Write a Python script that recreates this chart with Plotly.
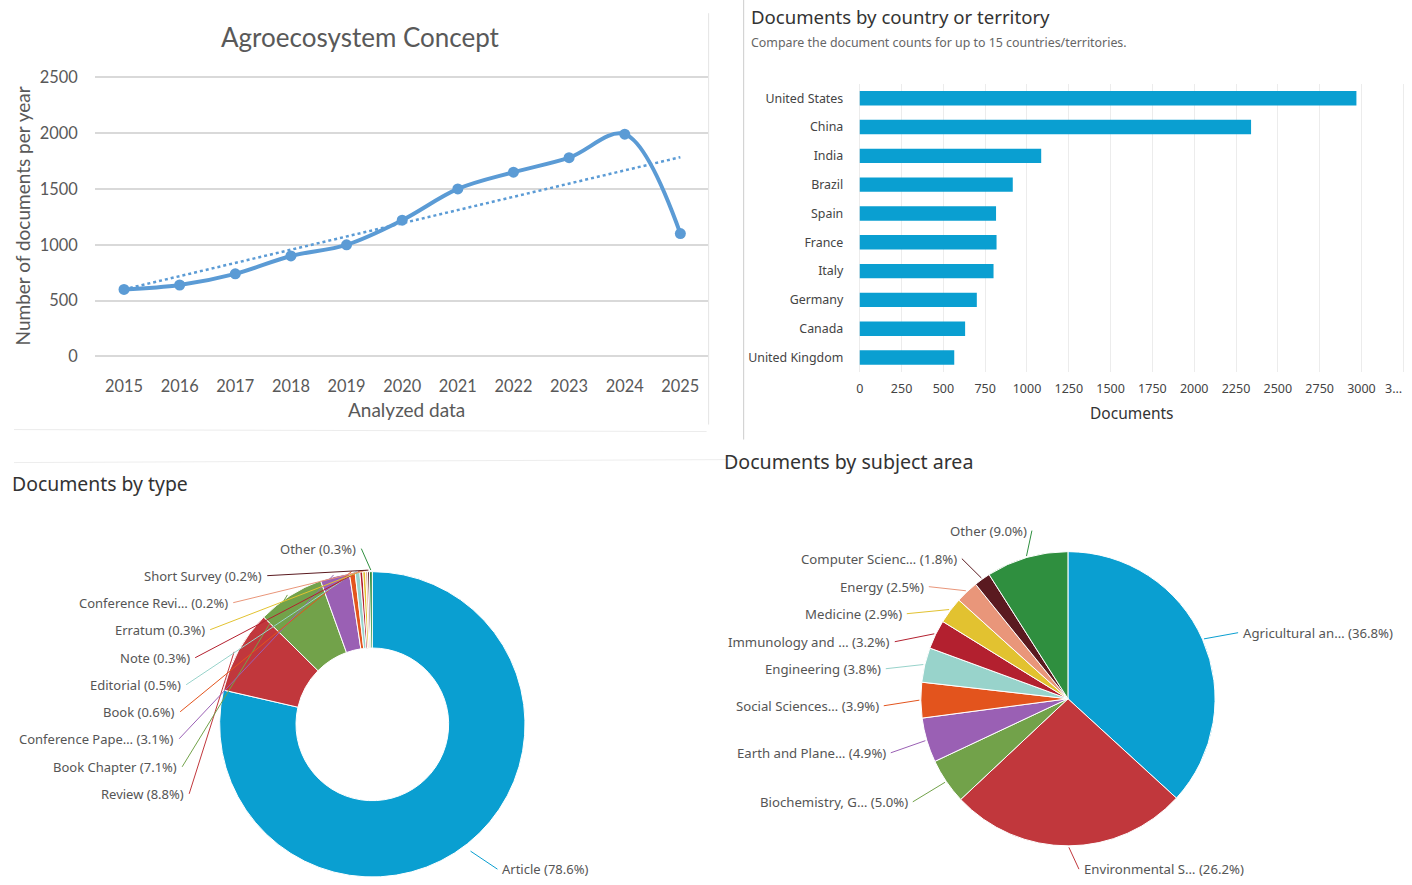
import numpy as np
import plotly.graph_objects as go

W, H = 1412, 885

# ---------------- data ----------------
years = [2015, 2016, 2017, 2018, 2019, 2020, 2021, 2022, 2023, 2024, 2025]
docs_per_year = [600, 640, 740, 900, 1000, 1220, 1500, 1650, 1780, 1990, 1100]

countries = ["United States", "China", "India", "Brazil", "Spain", "France",
             "Italy", "Germany", "Canada", "United Kingdom"]
country_docs = [2970, 2340, 1085, 915, 815, 818, 800, 700, 630, 565]
country_tickvals = [0, 250, 500, 750, 1000, 1250, 1500, 1750, 2000, 2250, 2500, 2750, 3000, 3250]
country_ticktext = ["0", "250", "500", "750", "1000", "1250", "1500", "1750", "2000",
                    "2250", "2500", "2750", "3000", ""]
country_last_tick = "3…"

type_labels = ["Article", "Review", "Book Chapter", "Conference Pape…", "Book", "Editorial",
               "Note", "Erratum", "Conference Revi…", "Short Survey", "Other"]
type_pct = [78.6, 8.8, 7.1, 3.1, 0.6, 0.5, 0.3, 0.3, 0.2, 0.2, 0.3]

subject_labels = ["Agricultural an…", "Environmental S…", "Biochemistry, G…", "Earth and Plane…",
                  "Social Sciences…", "Engineering", "Immunology and …", "Medicine", "Energy",
                  "Computer Scienc…", "Other"]
subject_pct = [36.8, 26.2, 5.0, 4.9, 3.9, 3.8, 3.2, 2.9, 2.5, 1.8, 9.0]

# ---------------- styles / layout constants ----------------
palette = ["#0a9fd1", "#c1373c", "#72a24a", "#9a60b4", "#e3541d", "#98d3cb",
           "#b3202f", "#e2c230", "#e9967a", "#5a1a20", "#2f8f3f"]
excel_blue = "#5b9bd5"
excel_text = "#595959"
sc_font = "Noto Sans"
xl_font = "Lato"

# label anchor positions in pixels (x, y, side)
type_label_pos = [(499, 877, "left"), (183, 794, "right"), (176, 767, "right"), (173, 739, "right"),
                  (174, 712, "right"), (180, 685, "right"), (189, 658, "right"), (204, 630, "right"),
                  (227, 603, "right"), (261, 576, "right"), (355, 549, "right")]
subject_label_pos = [(1239, 633, "left"), (1080, 877, "left"), (906, 802, "right"), (884, 753, "right"),
                     (877, 706, "right"), (879, 669, "right"), (888, 642, "right"), (900, 614, "right"),
                     (922, 587, "right"), (955, 559, "right"), (1025, 531, "right")]

donut_c, donut_r = (370, 728), 156
pie_c, pie_r = (1065, 699), 147

# screen-space calibration of the rendered page (measured)
SX, OX = 0.9977, 0.0
SY, OY = 0.98, 9.8


def X(x):
    return (x - OX) / SX


def Y(y):
    return (y - OY) / SY


def px(x):
    return X(x) / W


def py(y):
    return 1 - min(Y(y), H) / H


def pyt(y):
    # text positions: keep inside the page
    return 1 - min(Y(y), H - 8) / H


fig = go.Figure()

# ---------------- line chart ----------------
fig.add_trace(go.Scatter(
    x=years, y=docs_per_year, mode="lines+markers",
    line=dict(color=excel_blue, width=4, shape="spline", smoothing=1.0),
    marker=dict(color=excel_blue, size=11),
    xaxis="x", yaxis="y", showlegend=False, cliponaxis=False))

slope, intercept = np.polyfit(years, docs_per_year, 1)
trend = [slope * yr + intercept for yr in years]
fig.add_trace(go.Scatter(
    x=years, y=trend, mode="lines",
    line=dict(color=excel_blue, width=2.5, dash="dot"),
    xaxis="x", yaxis="y", showlegend=False))

# ---------------- bar chart ----------------
fig.add_trace(go.Bar(
    x=country_docs, y=countries, orientation="h", width=0.5,
    marker=dict(color="#0a9fd1", line=dict(width=0)),
    xaxis="x2", yaxis="y2", showlegend=False))

# ---------------- donut ----------------
fig.add_trace(go.Pie(
    labels=type_labels, values=type_pct, hole=0.5, sort=False, direction="clockwise",
    rotation=0, textinfo="none", showlegend=False,
    marker=dict(colors=palette, line=dict(color="white", width=1)),
    domain=dict(x=[px(donut_c[0] - donut_r), px(donut_c[0] + donut_r)],
                y=[py(donut_c[1] + donut_r), py(donut_c[1] - donut_r)])))

# ---------------- subject pie ----------------
fig.add_trace(go.Pie(
    labels=subject_labels, values=subject_pct, sort=False, direction="clockwise",
    rotation=0, textinfo="none", showlegend=False,
    marker=dict(colors=palette, line=dict(color="white", width=1)),
    domain=dict(x=[px(pie_c[0] - pie_r), px(pie_c[0] + pie_r)],
                y=[py(pie_c[1] + pie_r), py(pie_c[1] - pie_r)])))

annotations = []
shapes = []


def pie_labels(labels, values, pos, center, radius, fsize):
    total = sum(values)
    cum = 0.0
    for lab, v, (lx, ly, side), col in zip(labels, values, pos, palette):
        mid = (cum + v / 2) / total
        cum += v
        th = 2 * np.pi * mid
        ex = center[0] + radius * 1.01 * np.sin(th)
        ey = center[1] - radius * 1.01 * np.cos(th)
        sx = lx - 4 if side == "left" else lx + 4
        shapes.append(dict(type="line", xref="paper", yref="paper",
                           x0=px(sx), y0=pyt(ly), x1=px(ex), y1=py(ey),
                           line=dict(color=col, width=1)))
        annotations.append(dict(text=f"{lab} ({v:.1f}%)", x=px(lx), y=pyt(ly), xref="paper", yref="paper",
                                xanchor=side, yanchor="middle", showarrow=False, borderpad=0,
                                font=dict(family=sc_font, size=fsize, color="#555555")))


pie_labels(type_labels, type_pct, type_label_pos, donut_c, donut_r, 13)
pie_labels(subject_labels, subject_pct, subject_label_pos, pie_c, pie_r, 13.2)

# titles
annotations += [
    dict(text="Agroecosystem Concept", x=px(358), y=pyt(38), xref="paper", yref="paper",
         xanchor="center", yanchor="middle", showarrow=False,
         font=dict(family=xl_font, size=26, color=excel_text)),
    dict(text="Number of documents per year", x=px(20), y=pyt(217), xref="paper", yref="paper",
         xanchor="center", yanchor="middle", showarrow=False, textangle=-90,
         font=dict(family=xl_font, size=19, color=excel_text)),
    dict(text="Analyzed data", x=px(404), y=pyt(410), xref="paper", yref="paper",
         xanchor="center", yanchor="middle", showarrow=False,
         font=dict(family=xl_font, size=19, color=excel_text)),
    dict(text="Documents by country or territory", x=px(747), y=pyt(17), xref="paper", yref="paper",
         xanchor="left", yanchor="middle", showarrow=False, borderpad=0,
         font=dict(family=sc_font, size=18.6, color="#333333")),
    dict(text="Compare the document counts for up to 15 countries/territories.", x=px(747), y=pyt(43),
         xref="paper", yref="paper", xanchor="left", yanchor="middle", showarrow=False, borderpad=0,
         font=dict(family=sc_font, size=12.4, color="#666666")),
    dict(text="Documents", x=px(1129), y=pyt(413), xref="paper", yref="paper",
         xanchor="center", yanchor="middle", showarrow=False,
         font=dict(family=sc_font, size=15.5, color="#333333")),
    dict(text=country_last_tick, x=px(1390), y=pyt(389), xref="paper", yref="paper",
         xanchor="center", yanchor="middle", showarrow=False, borderpad=0,
         font=dict(family=sc_font, size=12.5, color="#444444")),
    dict(text="Documents by type", x=px(9), y=pyt(484), xref="paper", yref="paper",
         xanchor="left", yanchor="middle", showarrow=False, borderpad=0,
         font=dict(family=sc_font, size=19.4, color="#333333")),
    dict(text="Documents by subject area", x=px(720), y=pyt(462), xref="paper", yref="paper",
         xanchor="left", yanchor="middle", showarrow=False, borderpad=0,
         font=dict(family=sc_font, size=19.6, color="#333333")),
]

# panel separators / faint paper edges
shapes += [
    dict(type="line", xref="paper", yref="paper", x0=px(741), x1=px(741), y0=py(0), y1=py(440),
         line=dict(color="#cccccc", width=1)),
    dict(type="line", xref="paper", yref="paper", x0=px(706), x1=px(706), y0=py(14), y1=py(425),
         line=dict(color="#e4e4e4", width=1)),
    dict(type="line", xref="paper", yref="paper", x0=px(12), x1=px(704), y0=py(430), y1=py(432),
         line=dict(color="#ececec", width=1)),
    dict(type="line", xref="paper", yref="paper", x0=px(12), x1=px(738), y0=py(463), y1=py(460),
         line=dict(color="#ededed", width=1)),
]

fig.update_layout(
    width=W, height=H, margin=dict(l=0, r=0, t=0, b=0),
    paper_bgcolor="white", plot_bgcolor="white",
    annotations=annotations, shapes=shapes,
    xaxis=dict(domain=[px(93), px(705)], range=[2014.48, 2025.49], tickvals=years,
               showgrid=False, zeroline=False, showline=False,
               ticks="outside", ticklen=14, tickcolor="rgba(0,0,0,0)",
               tickfont=dict(family=xl_font, size=16.4, color=excel_text)),
    yaxis=dict(domain=[py(358), py(77)], range=[-9, 2509], tickvals=[0, 500, 1000, 1500, 2000, 2500],
               showgrid=True, gridcolor="#d9d9d9", gridwidth=1.5, zeroline=False, showline=False,
               ticks="outside", ticklen=13, tickcolor="rgba(0,0,0,0)",
               tickfont=dict(family=xl_font, size=16.4, color=excel_text)),
    xaxis2=dict(domain=[px(855), px(1402)], range=[-12, 3262], tickvals=country_tickvals,
                ticktext=country_ticktext, anchor="y2",
                showgrid=True, gridcolor="#ececec", gridwidth=1, zeroline=False, showline=False,
                ticks="outside", ticklen=5, tickcolor="rgba(0,0,0,0)",
                tickfont=dict(family=sc_font, size=12.5, color="#444444")),
    yaxis2=dict(domain=[py(372.4), py(84.6)], anchor="x2", autorange="reversed",
                showgrid=False, zeroline=False, showline=False,
                ticks="outside", ticklen=11, tickcolor="rgba(0,0,0,0)",
                tickfont=dict(family=sc_font, size=12.4, color="#444444")),
)

post = ("document.documentElement.style.margin='0px';"
        "document.body.style.margin='0px';"
        "document.documentElement.style.overflow='hidden';"
        "document.body.style.overflow='hidden';")

fig.write_html("out.html", config={"displayModeBar": False}, post_script=post)
